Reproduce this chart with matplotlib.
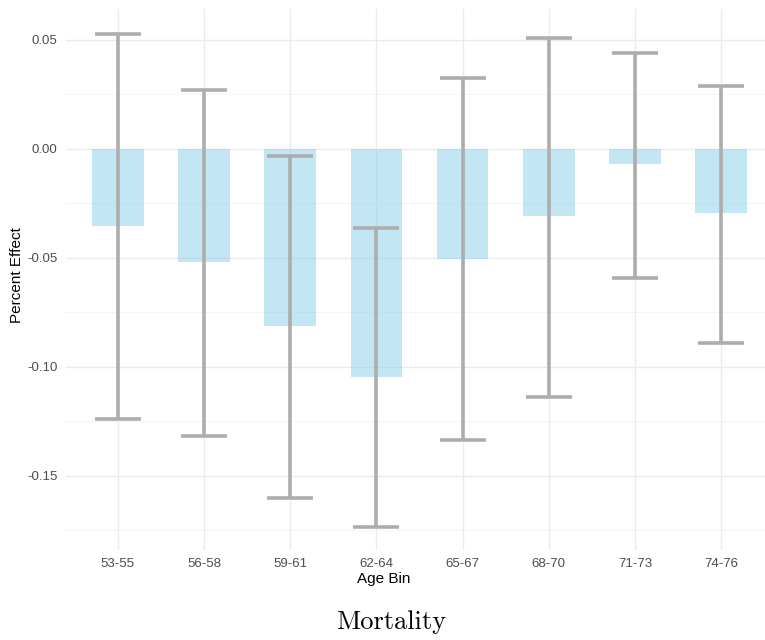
import numpy as np
import matplotlib
matplotlib.use('Agg')
import matplotlib.pyplot as plt
from matplotlib.ticker import MultipleLocator, FormatStrFormatter

plt.rcParams['axes.unicode_minus'] = False
plt.rcParams['font.family'] = ['Liberation Sans', 'DejaVu Sans']

# data
age_bins = ['53-55', '56-58', '59-61', '62-64', '65-67', '68-70', '71-73', '74-76']
effect = [-0.0353, -0.0518, -0.0812, -0.1046, -0.0505, -0.0307, -0.0069, -0.0294]
ci_low = [-0.1239, -0.1317, -0.1601, -0.1734, -0.1335, -0.1138, -0.0592, -0.0890]
ci_high = [0.0528, 0.0271, -0.0032, -0.0362, 0.0326, 0.0509, 0.0440, 0.0289]


def main():
    fig = plt.figure(figsize=(7.65, 6.4), dpi=100)
    # panel from x=66px to past the right edge (image looks cropped)
    ax = fig.add_axes([66 / 765, 1 - 550 / 640, 707 / 765, 541 / 640])

    x = np.arange(len(age_bins))
    ax.bar(x, effect, width=0.6, color='#87ceeb', alpha=0.5, zorder=2)

    lo = np.array(effect) - np.array(ci_low)
    hi = np.array(ci_high) - np.array(effect)
    ax.errorbar(x, effect, yerr=[lo, hi], fmt='none', ecolor='#adadad',
                elinewidth=2.6, capsize=16.5, capthick=2.6, zorder=3)

    ax.set_xlim(-0.6, 7.6)
    ax.set_ylim(-0.184, 0.0642)
    ax.set_xticks(x)
    ax.set_xticklabels(age_bins)
    ax.yaxis.set_major_locator(MultipleLocator(0.05))
    ax.yaxis.set_minor_locator(MultipleLocator(0.025))
    ax.yaxis.set_major_formatter(FormatStrFormatter('%.2f'))

    ax.grid(which='major', color='#ebebeb', linewidth=1.0, zorder=0)
    ax.grid(which='minor', axis='y', color='#f2f2f2', linewidth=0.6, zorder=0)
    ax.set_axisbelow(True)
    for s in ax.spines.values():
        s.set_visible(False)
    ax.tick_params(which='both', length=0, labelsize=9.5, labelcolor='#4d4d4d', pad=6)

    ax.set_xlabel('Age Bin', fontsize=11, color='black', va='center')
    ax.set_ylabel('Percent Effect', fontsize=11, color='black', va='center')
    ax.xaxis.set_label_coords((384 - 66) / 707, -(579 - 550) / 541)
    ax.yaxis.set_label_coords(-(66 - 17) / 707, (550 - 275) / 541)

    fig.text(391 / 765, 1 - 622 / 640, 'Mortality', fontname='cmr10',
             fontsize=19, ha='center', va='center')

    fig.savefig('out.png', dpi=100)


if __name__ == '__main__':
    main()
